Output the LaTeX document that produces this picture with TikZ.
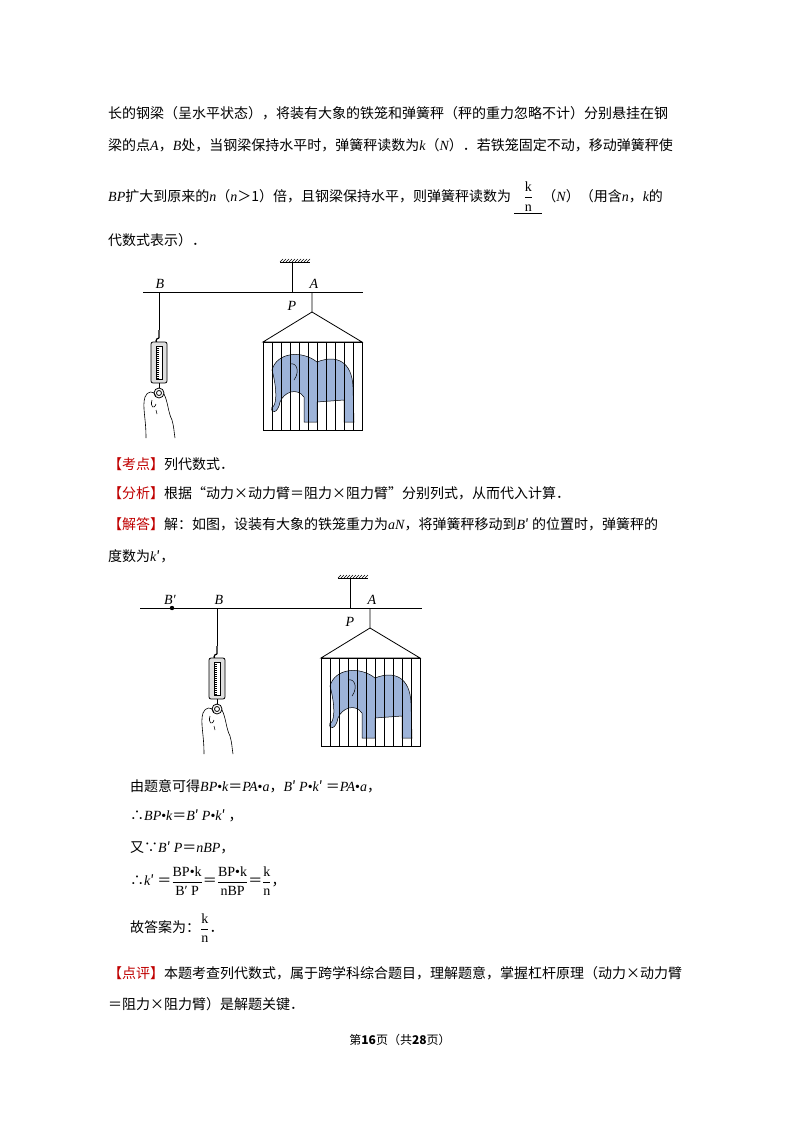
\documentclass[tikz,border=0pt]{standalone}
\usepackage{amsmath}
\usepackage{fontspec}
\setmainfont{Noto Sans CJK SC}
\newfontfamily\lat{Liberation Serif}
\newcommand\mi[1]{{\lat\itshape #1}}
\newcommand\ro[1]{\text{\lat #1}}
\definecolor{kred}{HTML}{C00000}
\definecolor{eleph}{HTML}{9DB3D8}
\newcommand\kd[1]{\textcolor{kred}{【#1】}}
\newcommand\apparatus{%
  \draw[line width=0.8pt] (-12,-30) -- (18,-30);
  \foreach \i in {-12,-9,...,16} \draw[line width=0.4pt] (\i,-30) -- (\i+3,-33);
  \draw[line width=0.8pt] (0,-30) -- (0,0);
  \node[font=\lat\itshape\fontsize{14}{14}\selectfont] (P) at (0,14) {P};
  \node[font=\lat\itshape\fontsize{14}{14}\selectfont] (A) at (22,-8) {A};
  \draw[line width=0.8pt] (20,0) -- (20,20) -- (-29,50) -- (70,50) -- (20,20);
  \fill[eleph] (-20,78) .. controls (-15,60) and (10,58) .. (25,70) .. controls (45,62) and (60,70) .. (61,95)
     -- (62,130) -- (52,130) -- (52,108) -- (25,110) -- (25,130) -- (12,130) -- (12,105)
     .. controls (5,95) and (-8,100) .. (-12,110) .. controls (-14,122) and (-22,122) .. (-20,115)
     .. controls (-16,115) and (-14,100) .. (-20,78) -- cycle;
  \draw[line width=0.5pt] (-20,78) .. controls (-15,60) and (10,58) .. (25,70) .. controls (45,62) and (60,70) .. (61,95)
     -- (62,130) -- (52,130) -- (52,108) -- (25,110) -- (25,130) -- (12,130) -- (12,105)
     .. controls (5,95) and (-8,100) .. (-12,110) .. controls (-14,122) and (-22,122) .. (-20,115)
     .. controls (-16,115) and (-14,100) .. (-20,78) -- cycle;
  \draw[line width=0.5pt] (-2,72) .. controls (5,70) and (8,80) .. (2,88);
  \draw[line width=0.8pt] (-29,50) rectangle (70,138);
  \foreach \x in {-20,-11,...,64} \draw[line width=0.7pt] (\x,50) -- (\x,138);
  \draw[line width=0.7pt] (-133,0) -- (-133,38);
  \draw[line width=1.2pt] (-133,38) -- (-133,46) (-133,46) arc (270:120:3);
  \draw[line width=0.8pt, fill=gray!25, rounded corners=2pt] (-141,50) rectangle (-125,91);
  \draw[line width=0.5pt, fill=white] (-136,54) rectangle (-130,87);
  \foreach \y in {56,58,...,86} \draw[line width=0.3pt] (-136,\y) -- (-133,\y);
  \draw[line width=0.8pt] (-133,91) -- (-133,96);
  \draw[line width=0.8pt] (-133,101) circle (5) (-133,101) circle (2.5);
  \draw[line width=0.6pt] (-146,146) .. controls (-146,125) and (-150,115) .. (-147,105)
     .. controls (-145,99) and (-138,98) .. (-136,104)
     (-128,102) .. controls (-124,110) and (-124,120) .. (-120,128) .. controls (-118,135) and (-118,140) .. (-117,146)
     (-140,108) .. controls (-142,115) and (-138,118) .. (-136,112) (-136,118) -- (-135,122);
}
\begin{document}
\begin{tikzpicture}[x=1pt,y=-1pt,txt/.style={anchor=west,inner sep=0pt,font=\fontsize{14}{14}\selectfont}]
\useasboundingbox[fill=white] (0,0) rectangle (800,1132);
\node[txt] (l1) at (108,113) {长的钢梁（呈水平状态），将装有大象的铁笼和弹簧秤（秤的重力忽略不计）分别悬挂在钢};
\node[txt] (l2) at (108,145) {梁的点\mi{A}，\mi{B}处，当钢梁保持水平时，弹簧秤读数为\mi{k}（\mi{N}）．若铁笼固定不动，移动弹簧秤使};
\node[txt] (l3) at (108,198) {\mi{BP}扩大到原来的\mi{n}（\mi{n}＞1）倍，且钢梁保持水平，则弹簧秤读数为 \underline{\ \ \ $\dfrac{\ro{k}}{\ro{n}}$\ \ \ }（\mi{N}）（用含\mi{n}，\mi{k}的};
\node[txt] (l4) at (108,240) {代数式表示）．};
\draw[line width=0.8pt] (143,292) -- (363,292);
\node[font=\lat\itshape\fontsize{14}{14}\selectfont] (B1) at (160,284) {B};
\begin{scope}[shift={(292,292)}]\apparatus\end{scope}
\node[txt] (k1) at (108,464) {\kd{考点}列代数式．};
\node[txt] (k2) at (108,493) {\kd{分析}根据“动力×动力臂＝阻力×阻力臂”分别列式，从而代入计算．};
\node[txt] (k3) at (108,524) {\kd{解答}解：如图，设装有大象的铁笼重力为\mi{aN}，将弹簧秤移动到\mi{B}′ 的位置时，弹簧秤的};
\node[txt] (k4) at (108,556) {度数为\mi{k}′，};
\draw[line width=0.8pt] (140,608) -- (422,608);
\fill (172,608) circle (2.2);
\node[font=\lat\itshape\fontsize{14}{14}\selectfont] (B2p) at (170,600) {B′};
\node[font=\lat\itshape\fontsize{14}{14}\selectfont] (B2) at (219,600) {B};
\begin{scope}[shift={(350,608)}]\apparatus\end{scope}
\node[txt] (m1) at (130,786) {由题意可得\mi{BP}{\lat •}\mi{k}＝\mi{PA}{\lat •}\mi{a}，\mi{B}′ \mi{P}{\lat •}\mi{k}′ ＝\mi{PA}{\lat •}\mi{a}，};
\node[txt] (m2) at (130,816) {∴\mi{BP}{\lat •}\mi{k}＝\mi{B}′ \mi{P}{\lat •}\mi{k}′ ，};
\node[txt] (m3) at (130,848) {又∵\mi{B}′ \mi{P}＝\mi{nBP}，};
\node[txt] (m4) at (130,881) {∴\mi{k}′ ＝$\dfrac{\ro{BP•k}}{\ro{B′ P}}$＝$\dfrac{\ro{BP•k}}{\ro{nBP}}$＝$\dfrac{\ro{k}}{\ro{n}}$，};
\node[txt] (m5) at (130,928) {故答案为：$\dfrac{\ro{k}}{\ro{n}}$．};
\node[txt] (p1) at (108,973) {\kd{点评}本题考查列代数式，属于跨学科综合题目，理解题意，掌握杠杆原理（动力×动力臂};
\node[txt] (p2) at (108,1004) {＝阻力×阻力臂）是解题关键．};
\node[font=\fontsize{12}{12}\selectfont] (ft) at (400,1040) {第\textbf{16}页（共\textbf{28}页）};
\end{tikzpicture}
\end{document}
